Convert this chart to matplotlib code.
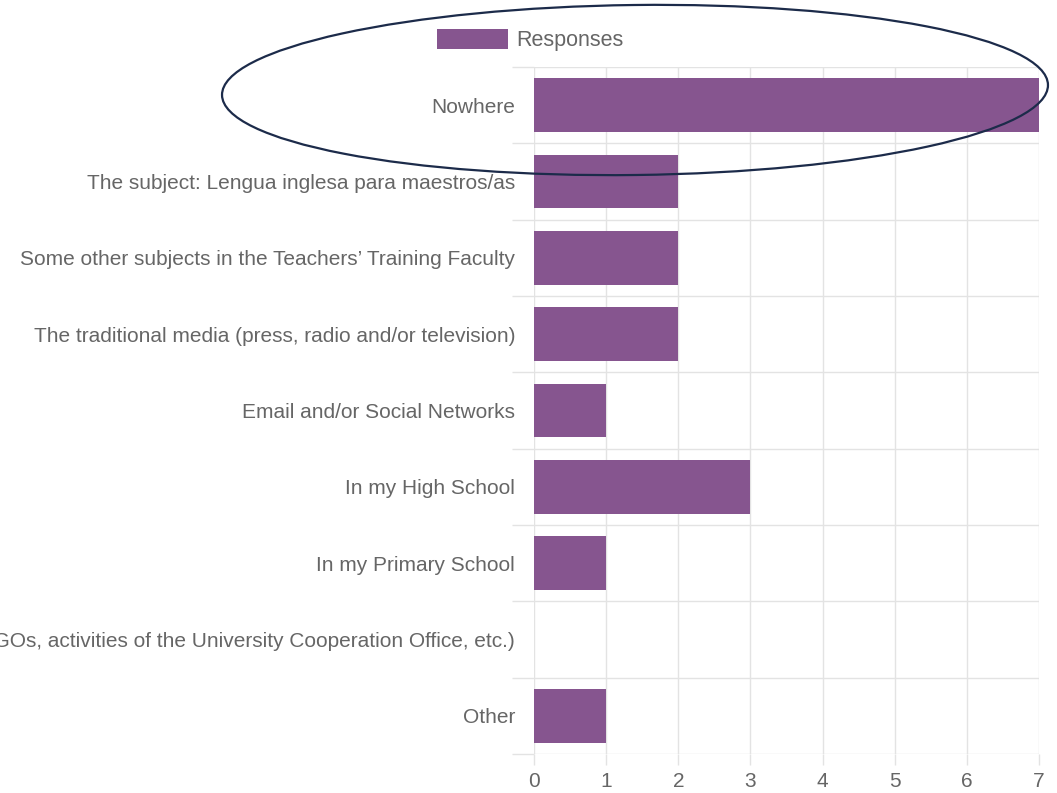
import matplotlib.pyplot as plt
from matplotlib.patches import Ellipse
import numpy as np

plt.rcParams['font.family'] = ['Liberation Sans', 'DejaVu Sans']

categories = [
    'Nowhere',
    'The subject: Lengua inglesa para maestros/as',
    'Some other subjects in the Teachers\u2019 Training Faculty',
    'The traditional media (press, radio and/or television)',
    'Email and/or Social Networks',
    'In my High School',
    'In my Primary School',
    'Extracurricular activities (conferences, NGOs, activities of the University Cooperation Office, etc.)',
    'Other',
]
responses = [7, 2, 2, 2, 1, 3, 1, 0, 1]
x_ticks = [0, 1, 2, 3, 4, 5, 6, 7]

bar_color = '#86558f'
text_color = '#666666'
grid_color = '#e3e3e3'

fig = plt.figure(figsize=(10.57, 7.93), dpi=100)
ax = fig.add_axes([534 / 1057, 1 - 754 / 793, 505 / 1057, 687 / 793])

y = np.arange(len(categories))
ax.barh(y, responses, height=0.70, color=bar_color, label='Responses', zorder=3)

ax.set_xlim(0, 7)
ax.set_ylim(len(categories) - 0.5, -0.5)
ax.set_xticks(x_ticks)
ax.set_yticks(y)
ax.set_yticklabels(categories)
ax.set_yticks(np.arange(len(categories) + 1) - 0.5, minor=True)

ax.tick_params(axis='y', which='major', length=0, pad=13.5, labelsize=15, labelcolor=text_color)
ax.tick_params(axis='y', which='minor', length=16, color=grid_color, width=1)
ax.tick_params(axis='x', length=8, color=grid_color, width=1, pad=5, labelsize=15, labelcolor=text_color)

ax.grid(axis='x', color=grid_color, lw=1, zorder=0)
ax.grid(axis='y', which='minor', color=grid_color, lw=1, zorder=0)
for s in ax.spines.values():
    s.set_visible(False)

fig.legend(loc='upper left', bbox_to_anchor=(428 / 1057, 1 - 20 / 793), frameon=False,
           fontsize=15.5, labelcolor=text_color, handlelength=3.3, handleheight=1.05,
           handletextpad=0.4, borderaxespad=0)

ell = Ellipse((6.35, (793 - 90) / 100), 8.26, 1.70, angle=0.7, fill=False,
              edgecolor='#1c2b4a', lw=1.6, transform=fig.dpi_scale_trans, zorder=10)
fig.add_artist(ell)

fig.savefig('out.png', dpi=100)
